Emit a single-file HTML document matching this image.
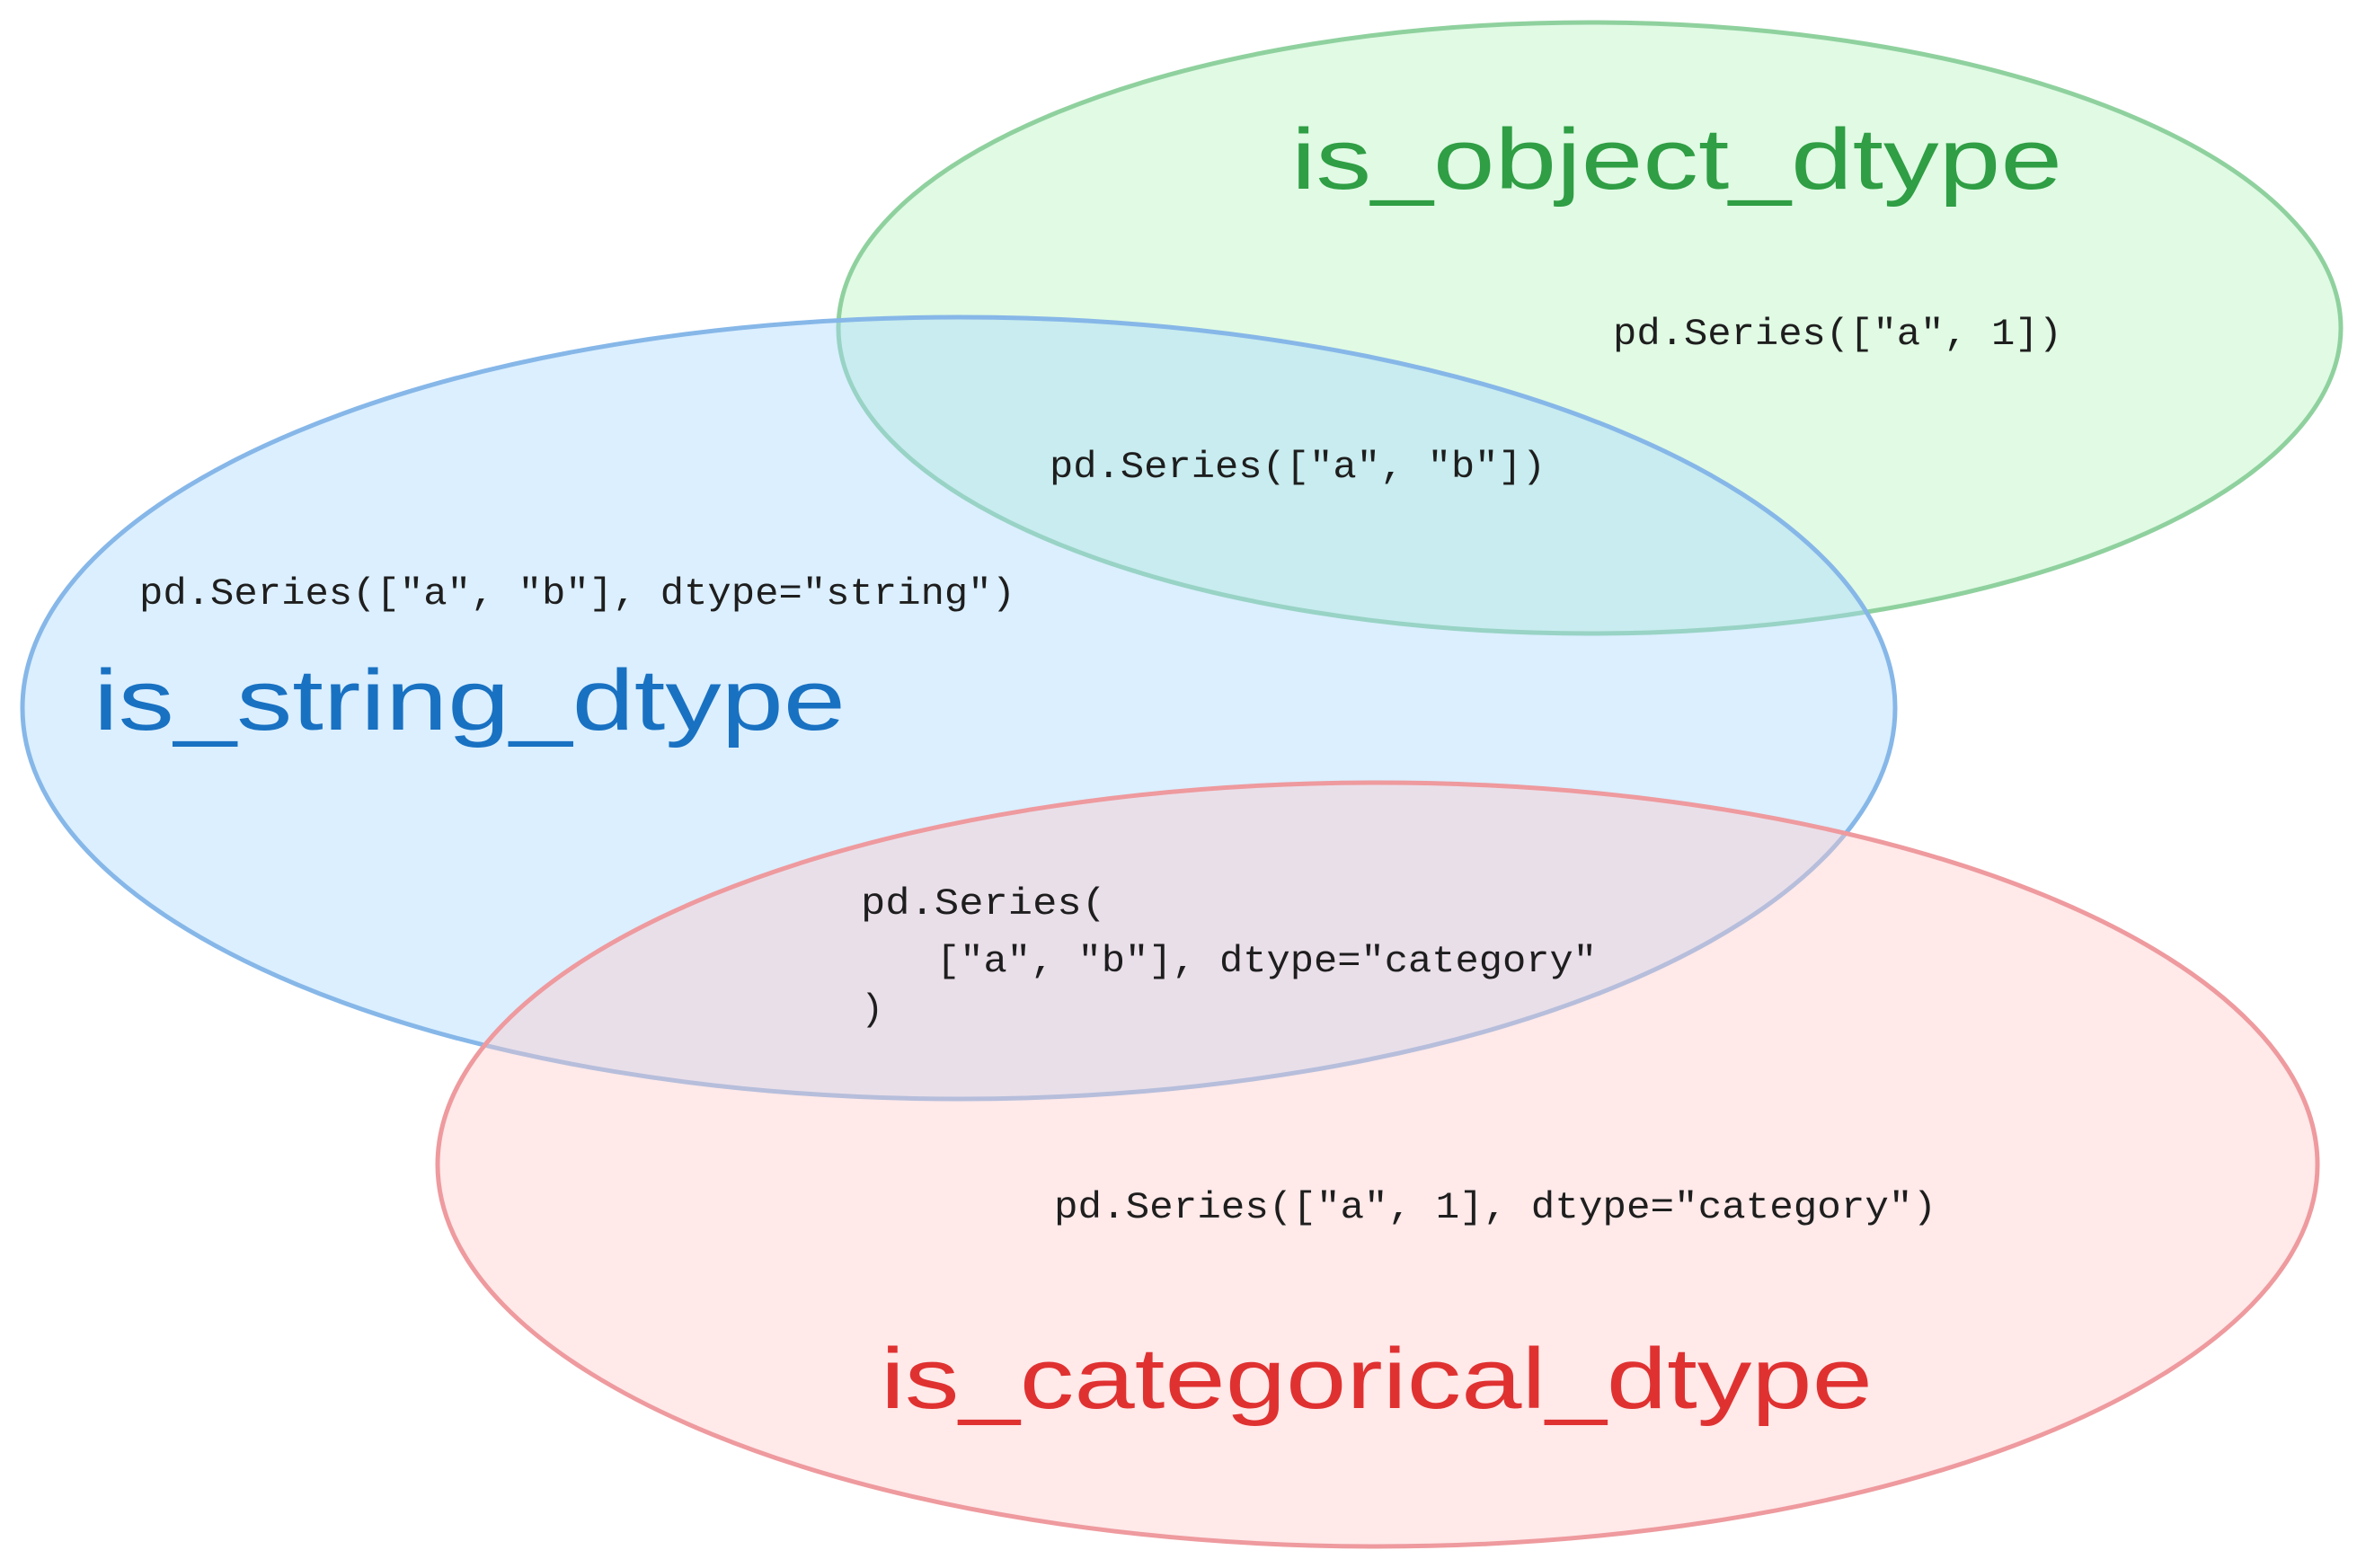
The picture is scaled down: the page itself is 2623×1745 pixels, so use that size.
<!DOCTYPE html>
<html><head><meta charset="utf-8"><style>html,body{margin:0;padding:0;background:#fff}svg{display:block}</style></head>
<body>
<svg width="2623" height="1745" viewBox="0 0 2623 1745" xmlns="http://www.w3.org/2000/svg">
<rect width="2623" height="1745" fill="#fff"/>
<ellipse cx="1769" cy="365" rx="836" ry="340" fill="#b2f2bb" fill-opacity="0.4" stroke="#8fd19e" stroke-width="5"/>
<ellipse cx="1067" cy="788" rx="1042" ry="435" fill="#a5d8ff" fill-opacity="0.4" stroke="#86b7e8" stroke-width="5"/>
<ellipse cx="1533" cy="1296" rx="1046" ry="425" fill="#ffc9c9" fill-opacity="0.4" stroke="#ee9a9e" stroke-width="5"/>
<g font-family="'Liberation Sans', sans-serif" font-size="96">
<text x="1437" y="210" textLength="858" lengthAdjust="spacingAndGlyphs" fill="#2f9e44">is_object_dtype</text>
<text x="104" y="812" textLength="837" lengthAdjust="spacingAndGlyphs" fill="#1971c2">is_string_dtype</text>
<text x="980" y="1567" textLength="1104" lengthAdjust="spacingAndGlyphs" fill="#e03131">is_categorical_dtype</text>
</g>
<g font-family="'Liberation Mono', monospace" font-size="42" fill="#1e1e1e">
<text x="1795" y="383" textLength="500" lengthAdjust="spacingAndGlyphs">pd.Series(["a", 1])</text>
<text x="1168" y="531" textLength="552" lengthAdjust="spacingAndGlyphs">pd.Series(["a", "b"])</text>
<text x="155" y="672" textLength="975" lengthAdjust="spacingAndGlyphs">pd.Series(["a", "b"], dtype="string")</text>
<text x="958" y="1017" textLength="273" lengthAdjust="spacingAndGlyphs">pd.Series(</text>
<text x="1042" y="1081" textLength="735" lengthAdjust="spacingAndGlyphs">["a", "b"], dtype="category"</text>
<text x="958" y="1135">)</text>
<text x="1173" y="1355" textLength="982" lengthAdjust="spacingAndGlyphs">pd.Series(["a", 1], dtype="category")</text>
</g>
</svg>
</body></html>
